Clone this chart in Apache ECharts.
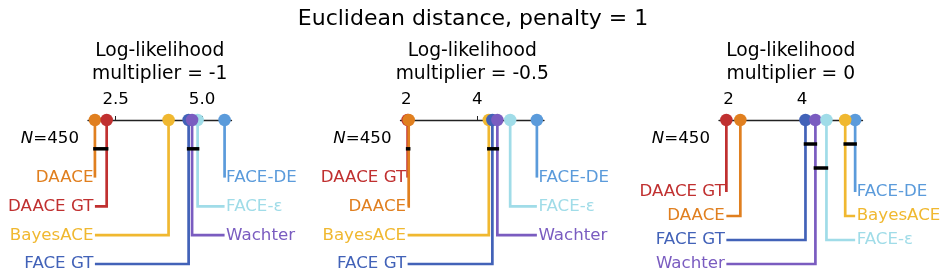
<!DOCTYPE html>
<html><head><meta charset="utf-8">
<script src="https://cdn.jsdelivr.net/npm/echarts@6/dist/echarts.min.js"></script>
<style>html,body{margin:0;padding:0;background:#fff}#c{width:946px;height:278px}</style>
</head><body><div id="c"></div>
<script>
// ---- data ----
const methods = ['DAACE', 'DAACE GT', 'BayesACE', 'FACE GT', 'Wachter', 'FACE-ε', 'FACE-DE'];
const methodColors = ['#E07F1F', '#C03030', '#F0B830', '#4262B8', '#7A5CC0', '#A0DCE8', '#5B9BDB'];
const mainTitle = 'Euclidean distance, penalty = 1';
const panelTitles = ['Log-likelihood\nmultiplier = -1', 'Log-likelihood\nmultiplier = -0.5', 'Log-likelihood\nmultiplier = 0'];
// average ranks, same order as methods
const ranksP1 = [1.90, 2.24, 4.03, 4.61, 4.71, 4.87, 5.65];
const ranksP2 = [2.07, 2.04, 4.32, 4.42, 4.56, 4.92, 5.67];
const ranksP3 = [2.32, 1.94, 5.17, 4.09, 4.36, 4.66, 5.44];
// groups not significantly different
const cliquesP1 = [['DAACE', 'DAACE GT'], ['FACE GT', 'Wachter', 'FACE-ε']];
const cliquesP2 = [['DAACE', 'DAACE GT'], ['BayesACE', 'FACE GT', 'Wachter']];
const cliquesP3 = [['FACE GT', 'Wachter'], ['Wachter', 'FACE-ε'], ['BayesACE', 'FACE-DE']];
const ticksP1 = [2.5, 5.0]; const tickLabelsP1 = ['2.5', '5.0'];
const ticksP2 = [2, 4];     const tickLabelsP2 = ['2', '4'];
const ticksP3 = [2, 4];     const tickLabelsP3 = ['2', '4'];
const nSamples = 450;

// ---- layout ----
const FONT = '"DejaVu Sans", sans-serif';
const FS = 16.67;
const gridLefts = [88, 400.5, 719];
const gridWidth = 143.5;
const axisY = 120;
const depth = 144;
const pad = 0.2;

const panels = [
  {ranks: ranksP1, cliques: cliquesP1, ticks: ticksP1, tickLabels: tickLabelsP1},
  {ranks: ranksP2, cliques: cliquesP2, ticks: ticksP2, tickLabels: tickLabelsP2},
  {ranks: ranksP3, cliques: cliquesP3, ticks: ticksP3, tickLabels: tickLabelsP3}
];

const grids = [], xAxes = [], yAxes = [], series = [], titles = [], graphics = [];
titles.push({text: mainTitle, left: 'center', top: 0,
  textStyle: {fontFamily: FONT, fontSize: 22, fontWeight: 'normal', color: '#000', lineHeight: 28}});

panels.forEach((p, pi) => {
  const n = p.ranks.length;
  const minR = Math.min(...p.ranks), maxR = Math.max(...p.ranks);
  const order = p.ranks.map((r, i) => i).sort((a, b) => p.ranks[a] - p.ranks[b]);
  const nLeft = Math.ceil(n / 2);
  const leftIdx = order.slice(0, nLeft);
  const rightIdx = order.slice(nLeft).reverse();
  // clique rows (greedy)
  const cl = p.cliques.map(c => {
    const vals = c.map(m => p.ranks[methods.indexOf(m)]);
    return {lo: Math.min(...vals), hi: Math.max(...vals)};
  });
  const rowsEnd = [];
  cl.forEach(c => {
    let r = 0;
    while (rowsEnd[r] !== undefined && rowsEnd[r] >= c.lo) r++;
    rowsEnd[r] = c.hi; c.row = r;
  });
  const nCR = rowsEnd.length;
  const nRows = Math.max(leftIdx.length, rightIdx.length);
  const s = depth / (nCR + nRows);

  grids.push({left: gridLefts[pi], width: gridWidth, top: axisY, height: 150});
  xAxes.push({
    type: 'value', gridIndex: pi, position: 'top', min: minR - pad, max: maxR + pad,
    axisLine: {show: true, onZero: false, lineStyle: {color: '#222', width: 1.3}},
    axisTick: {show: true, customValues: p.ticks, length: 4, lineStyle: {color: '#222', width: 1}},
    axisLabel: {show: true, customValues: p.ticks, margin: 12,
      formatter: v => p.tickLabels[p.ticks.findIndex(t => Math.abs(t - v) < 1e-9)] ?? '',
      fontFamily: FONT, fontSize: FS, color: '#000'},
    splitLine: {show: false}
  });
  yAxes.push({type: 'value', gridIndex: pi, min: 0, max: 150, inverse: true, show: false});

  const items = [];
  leftIdx.forEach((mi, r) => items.push([p.ranks[mi], s * (nCR + 1 + r), 0, mi, minR]));
  rightIdx.forEach((mi, r) => items.push([p.ranks[mi], s * (nCR + 1 + r), 1, mi, maxR]));

  series.push({
    type: 'custom', xAxisIndex: pi, yAxisIndex: pi, z: 2, silent: true,
    data: items,
    renderItem: (params, api) => {
      const top = api.coord([api.value(0), 0]);
      const row = api.coord([api.value(0), api.value(1)]);
      const anc = api.coord([api.value(4), api.value(1)]);
      const side = api.value(2);
      const col = methodColors[api.value(3)];
      return {type: 'group', children: [
        {type: 'polyline', shape: {points: [[top[0], top[1]], [row[0], row[1]], [anc[0], row[1]]]},
          style: {stroke: col, lineWidth: 2.7, fill: 'none'}},
        {type: 'text', style: {text: methods[api.value(3)], x: anc[0] + (side ? 1.5 : -1.5), y: row[1],
          align: side ? 'left' : 'right', verticalAlign: 'middle', fill: col,
          font: FS + 'px ' + FONT}}
      ]};
    }
  });
  series.push({
    type: 'custom', xAxisIndex: pi, yAxisIndex: pi, z: 4, silent: true,
    data: cl.map(c => [c.lo, c.hi, s * (c.row + 1)]),
    renderItem: (params, api) => {
      const a = api.coord([api.value(0), api.value(2)]);
      const b = api.coord([api.value(1), api.value(2)]);
      return {type: 'line', shape: {x1: a[0], y1: a[1], x2: b[0], y2: b[1]},
        style: {stroke: '#000', lineWidth: 3.5, lineCap: 'square'}};
    }
  });
  series.push({
    type: 'scatter', xAxisIndex: pi, yAxisIndex: pi, z: 5, silent: true,
    symbolSize: 12.5,
    data: items.map(it => ({value: [it[0], 0], itemStyle: {color: methodColors[it[3]], opacity: 1}}))
  });

  titles.push({text: panelTitles[pi], left: gridLefts[pi] + gridWidth / 2, textAlign: 'center', top: 40,
    padding: 0,
    textStyle: {fontFamily: FONT, fontSize: 18.7, fontWeight: 'normal', color: '#000', lineHeight: 23}});
  graphics.push({type: 'text', x: gridLefts[pi] - 9, y: 139,
    style: {text: '{i|N}{r|=' + nSamples + '}', align: 'right', verticalAlign: 'middle',
      rich: {i: {fontStyle: 'italic', fontFamily: FONT, fontSize: FS, fill: '#000'},
             r: {fontFamily: FONT, fontSize: FS, fill: '#000'}}}});
});

const chart = echarts.init(document.getElementById('c'), null, {renderer: 'canvas'});
chart.setOption({
  animation: false, backgroundColor: '#fff',
  title: titles, grid: grids, xAxis: xAxes, yAxis: yAxes, series: series, graphic: graphics
});
</script></body></html>
